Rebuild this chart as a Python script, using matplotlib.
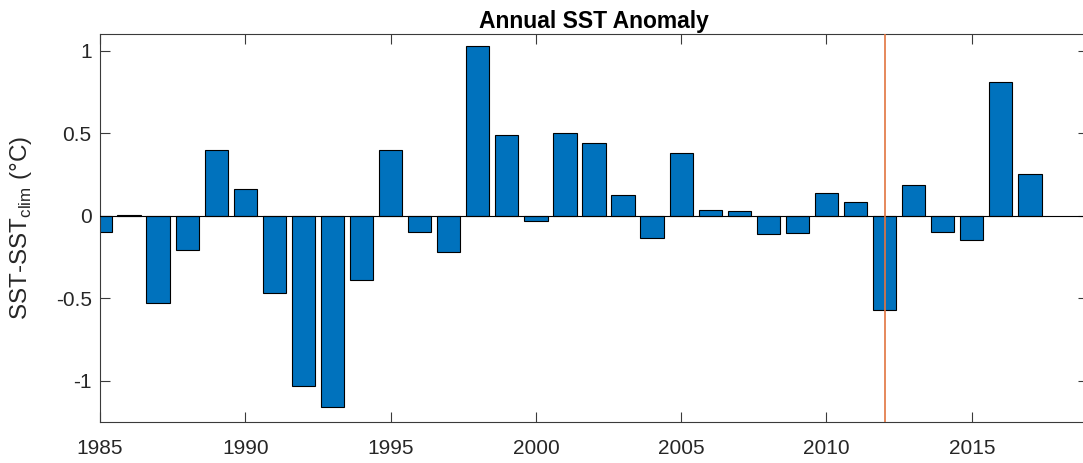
"""
Annual SST anomaly bar chart (MATLAB-style look).
"""

import matplotlib.pyplot as plt
import numpy as np

plt.rcParams['font.family'] = ['Liberation Sans', 'DejaVu Sans']

# ---------------------------------------------------------------------------
# Data
# ---------------------------------------------------------------------------
years = np.arange(1985, 2018)
anomaly = [
    -0.10, 0.005, -0.53, -0.21, 0.40, 0.16, -0.47, -1.03, -1.16, -0.39,
    0.395, -0.10, -0.22, 1.03, 0.49, -0.035, 0.50, 0.44, 0.125, -0.135,
    0.38, 0.032, 0.028, -0.11, -0.107, 0.14, 0.08, -0.57, 0.187, -0.102,
    -0.15, 0.81, 0.253,
]
marker_year = 2012
x_ticks = [1985, 1990, 1995, 2000, 2005, 2010, 2015]
y_ticks = [-1, -0.5, 0, 0.5, 1]
y_tick_labels = ['-1', '-0.5', '0', '0.5', '1']

BAR_COLOR = '#0072BD'
LINE_COLOR = '#E2743F'
AXIS_COLOR = '#3a3a3a'

W, H = 1083, 463
fig = plt.figure(figsize=(W / 100, H / 100), dpi=100)
# axes run slightly past the right edge, like the cropped original
left, right, top, bottom = 100, 1088, 34, 422
ax = fig.add_axes([left / W, 1 - bottom / H, (right - left) / W, (bottom - top) / H])

ax.bar(years, anomaly, width=0.8, color=BAR_COLOR, edgecolor='black',
       linewidth=0.8, zorder=2)
ax.axhline(0, color='black', lw=0.8, zorder=3)
ax.axvline(marker_year, color=LINE_COLOR, lw=1.2, zorder=4)

ax.set_xlim(1985, 2019)
ax.set_ylim(-1.25, 1.1)
ax.set_xticks(x_ticks)
ax.set_xticklabels([str(t) for t in x_ticks])
ax.set_yticks(y_ticks)
ax.set_yticklabels(y_tick_labels)

ax.tick_params(direction='in', length=7, width=0.8, colors=AXIS_COLOR,
               labelcolor='#262626', labelsize=15, top=True, right=True)
ax.tick_params(axis='x', pad=12)
ax.tick_params(axis='y', pad=6)
for s in ax.spines.values():
    s.set_color(AXIS_COLOR)
    s.set_linewidth(0.8)

ax.set_title('Annual SST Anomaly', fontsize=16.5, fontweight='bold', pad=4)
ax.set_ylabel(r'SST-SST$_{\mathregular{clim}}$ (°C)', fontsize=17.5,
              color='#262626')
ax.yaxis.set_label_coords(-66 / (right - left), 0.5)

fig.savefig('out.png', dpi=100)
plt.close(fig)
